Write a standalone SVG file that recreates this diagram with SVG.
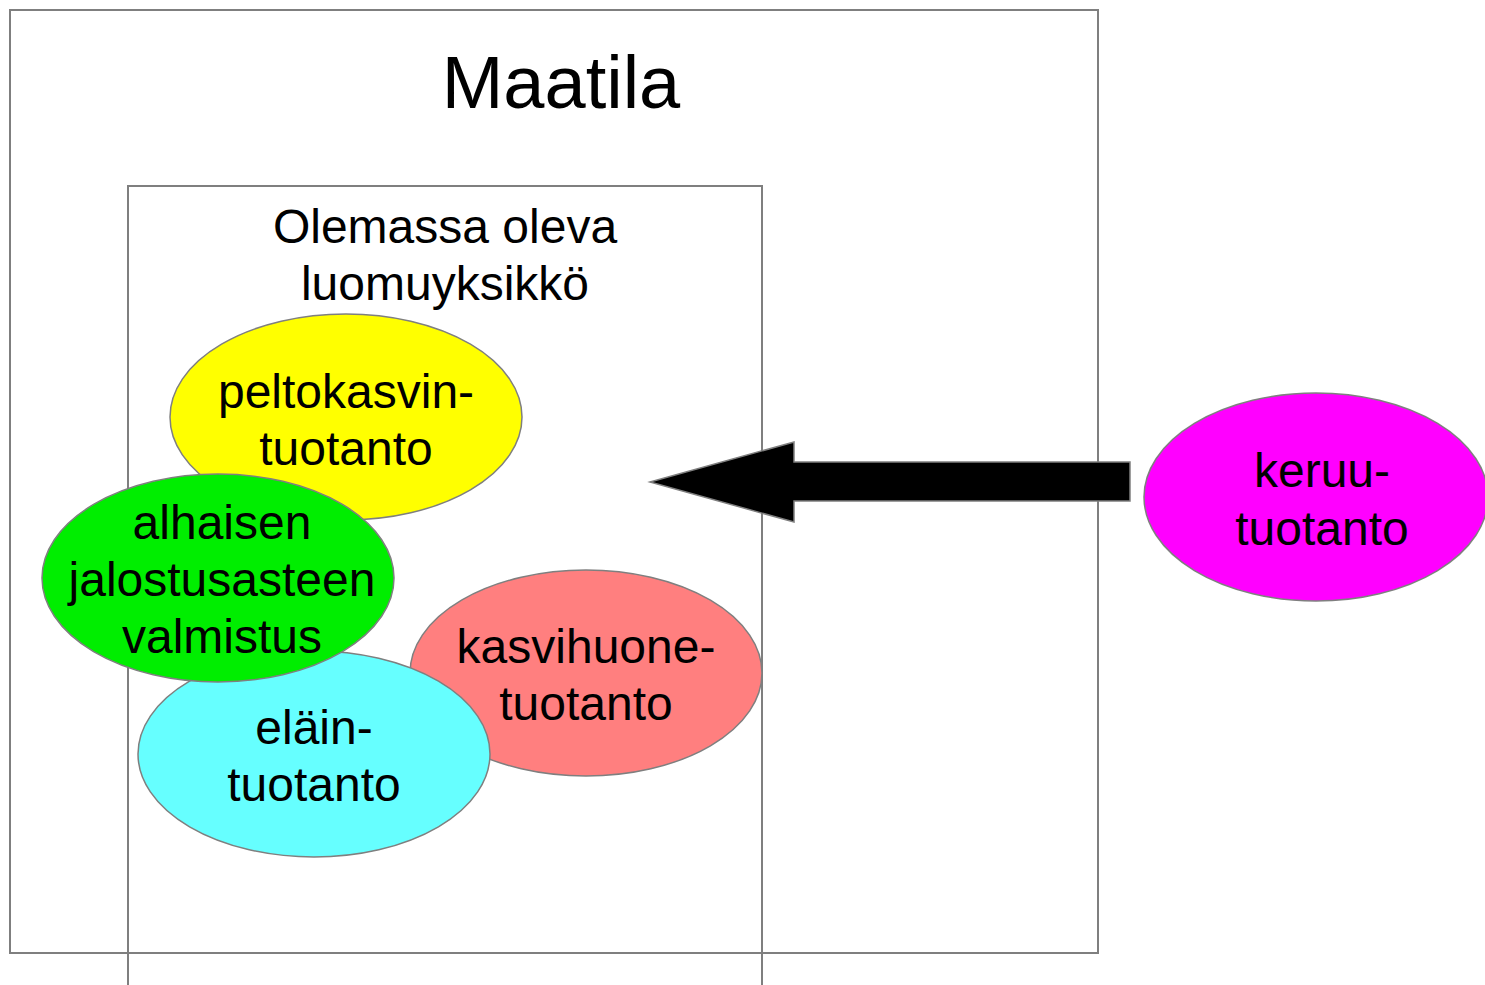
<svg xmlns="http://www.w3.org/2000/svg" width="1485" height="985" viewBox="0 0 1485 985">
<style>
.box{fill:none;stroke:#7f7f7f;stroke-width:2}
.el{stroke:#7f7f7f;stroke-width:1.5}
text{font-family:"Liberation Sans",Arial,sans-serif;fill:#000;text-anchor:middle}
.t{font-size:48px}
</style>
<rect width="1485" height="985" fill="#fff"/>
<g id="maatila">
<rect class="box" x="10" y="10" width="1088" height="943"/>
<text x="561" y="108" style="font-size:74px">Maatila</text>
</g>
<g id="luomuyksikko">
<path class="box" d="M128,990 V186 H762 V990"/>
<text class="t" x="445" y="243">Olemassa oleva</text>
<text class="t" x="445" y="300">luomuyksikkö</text>
</g>
<g id="connectors">
<polygon points="650,482 794,442 794,462 1130,462 1130,501 794,501 794,522" fill="#000" stroke="#7f7f7f" stroke-width="1.5"/>
</g>
<g id="peltokasvin">
<ellipse class="el" cx="346" cy="417" rx="176" ry="103" fill="#ffff00"/>
<text class="t" x="346" y="408">peltokasvin-</text>
<text class="t" x="346" y="465">tuotanto</text>
</g>
<g id="kasvihuone">
<ellipse class="el" cx="586" cy="673" rx="176" ry="103" fill="#ff7f7f"/>
<text class="t" x="586" y="663">kasvihuone-</text>
<text class="t" x="586" y="720">tuotanto</text>
</g>
<g id="elain">
<ellipse class="el" cx="314" cy="754" rx="176" ry="103" fill="#66ffff"/>
<text class="t" x="314" y="744">eläin-</text>
<text class="t" x="314" y="801">tuotanto</text>
</g>
<g id="alhaisen">
<ellipse class="el" cx="218" cy="578" rx="176" ry="104" fill="#00ee00"/>
<text class="t" x="222" y="539">alhaisen</text>
<text class="t" x="222" y="596">jalostusasteen</text>
<text class="t" x="222" y="653">valmistus</text>
</g>
<g id="keruu">
<ellipse class="el" cx="1316" cy="497" rx="172" ry="104" fill="#ff00ff"/>
<text class="t" x="1322" y="487">keruu-</text>
<text class="t" x="1322" y="545">tuotanto</text>
</g>
</svg>
